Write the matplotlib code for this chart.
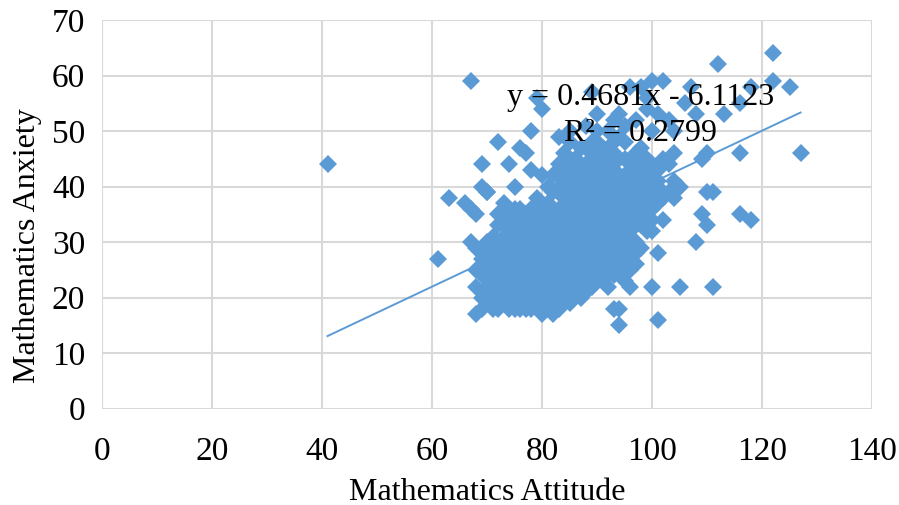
import matplotlib
matplotlib.use("Agg")
import matplotlib.pyplot as plt
import numpy as np

# ---- data ----
x_ticks = [0, 20, 40, 60, 80, 100, 120, 140]
y_ticks = [0, 10, 20, 30, 40, 50, 60, 70]

# core cluster: attitude value -> list of anxiety values
cluster = {
    68: [17, 22, 25, 29, 35],
    69: [18, 20, 24, 27, 40, 44],
    70: [19, 22, 26, 30, 39],
    71: [18, 21, 23, 27, 29],
    72: [18, 20, 24, 25, 30, 33, 48],
    73: [19, 22, 26, 28, 31, 37],
    74: [18, 21, 24, 27, 29, 33, 35, 44],
    75: [20, 23, 25, 30, 32, 36, 40],
    76: [18, 22, 26, 28, 31, 34, 47],
    77: [19, 21, 24, 27, 29, 33, 35, 46],
    78: [18, 20, 23, 25, 28, 31, 36, 43, 50],
    79: [19, 22, 26, 30, 32, 34, 38, 56],
    80: [17, 21, 24, 27, 29, 33, 36, 42, 54],
    81: [18, 20, 23, 25, 28, 31, 35, 37],
    82: [17, 19, 22, 26, 30, 32, 34, 39, 42],
    83: [18, 21, 24, 27, 29, 33, 36, 44, 49],
    84: [20, 23, 25, 28, 31, 35, 38, 41, 46],
    85: [19, 22, 26, 30, 32, 34, 37, 43, 48, 50],
    86: [21, 24, 27, 29, 33, 36, 40, 45],
    87: [20, 23, 25, 28, 31, 35, 38, 42, 47],
    88: [21, 24, 26, 30, 32, 37, 41, 44, 51],
    89: [22, 25, 27, 29, 33, 36, 39, 43, 46, 57],
    90: [23, 26, 28, 31, 34, 38, 40, 45, 48, 53],
    91: [24, 27, 30, 32, 35, 37, 42, 47],
    92: [22, 25, 29, 33, 36, 39, 41, 44, 50],
    93: [18, 24, 27, 31, 34, 38, 43, 46, 52],
    94: [15, 18, 25, 28, 30, 35, 37, 40, 45, 53],
    95: [23, 26, 32, 36, 39, 42, 48, 51],
    96: [22, 25, 29, 32, 34, 38, 41, 44, 58],
    97: [26, 30, 33, 36, 40, 43, 52],
    98: [29, 35, 37, 39, 42, 47, 58],
    99: [32, 36, 38, 41, 45, 54],
    100: [22, 32, 34, 40, 42, 44, 50, 59],
    101: [16, 28, 37, 41, 43, 53],
    102: [34, 38, 39, 45, 59],
    103: [39, 44, 52],
    104: [38, 41, 46, 50],
    105: [22, 40],
}
# second set of cluster responses filling the dense core
cluster_b = {
    70: [24, 28],
    71: [25, 31],
    72: [22, 27, 35],
    73: [20, 24, 33],
    74: [22, 26, 31],
    75: [18, 22, 27, 34],
    76: [20, 24, 30, 36],
    77: [18, 23, 26, 31],
    78: [22, 27, 33],
    79: [20, 24, 28, 36],
    80: [19, 23, 26, 31, 35],
    81: [22, 27, 30, 33, 40],
    82: [21, 24, 28, 36],
    83: [20, 23, 26, 31, 35, 40],
    84: [22, 27, 30, 33, 43],
    85: [24, 28, 36, 40, 45],
    86: [23, 26, 31, 35, 38, 42],
    87: [22, 27, 30, 33, 40, 44],
    88: [23, 28, 34, 39, 47],
    89: [24, 31, 35, 41, 48],
    90: [25, 30, 33, 36, 42, 50],
    91: [26, 29, 34, 39, 44],
    92: [24, 27, 31, 35, 38, 46],
    93: [26, 29, 33, 36, 40, 48],
    94: [27, 32, 38, 42, 49],
    95: [25, 30, 34, 38, 45],
    96: [27, 31, 36, 40],
    97: [28, 35, 38, 46],
    98: [33, 40, 44],
    99: [34, 40, 43],
    100: [36, 38],
}
# isolated points
extra_x = [41, 61, 63, 66, 67, 67, 67, 70, 107, 108, 109, 109, 110, 110, 110, 111,
           111, 112, 113, 116, 116, 116, 118, 118, 122, 122, 125, 127, 106, 108, 99]
extra_y = [44, 27, 38, 37, 36, 59, 30, 39, 58, 30, 35, 45, 33, 39, 46, 39,
           22, 62, 53, 55, 46, 35, 34, 58, 64, 59, 58, 46, 55, 53, 56]

attitude = ([k for k, vs in cluster.items() for _ in vs]
            + [k for k, vs in cluster_b.items() for _ in vs] + extra_x)
anxiety = ([v for vs in cluster.values() for v in vs]
           + [v for vs in cluster_b.values() for v in vs] + extra_y)

slope = 0.4681
intercept = -6.1123
r2 = 0.2799

# ---- figure ----
blue = "#5B9BD5"
grid = "#D9D9D9"
font = "Liberation Serif"

fig = plt.figure(figsize=(8.99, 5.05), dpi=100)
ax = fig.add_axes([102 / 899, 1 - 408.7 / 505, 770 / 899, 388.7 / 505])

ax.plot(attitude, anxiety, linestyle="none", marker="D", markersize=9,
        color=blue, markeredgewidth=0, zorder=3)

xs = np.array([min(attitude), max(attitude)])
ax.plot(xs, slope * xs + intercept, color=blue, linewidth=1.4, zorder=4)

ax.set_xlim(0, 140)
ax.set_ylim(0, 70)
ax.set_xticks(x_ticks)
ax.set_yticks(y_ticks)
ax.grid(True, color=grid, linewidth=1.5, zorder=0)
ax.set_axisbelow(True)
for s in ax.spines.values():
    s.set_visible(False)
ax.tick_params(length=0, labelsize=24, pad=12)
ax.tick_params(axis="x", pad=20)
for lab in ax.get_xticklabels() + ax.get_yticklabels():
    lab.set_fontfamily(font)

ax.text(98, 56.0, "y = 0.4681x - 6.1123", ha="center", va="center",
        fontsize=23, family=font, zorder=5)
ax.text(98, 49.6, "R² = 0.2799", ha="center", va="center",
        fontsize=23, family=font, zorder=5)

fig.text(487 / 899, 1 - 492 / 505, "Mathematics Attitude", ha="center",
         va="center", fontsize=23, family=font)
fig.text(28 / 899, 1 - 246 / 505, "Mathematics Anxiety", ha="center",
         va="center", rotation=90, fontsize=23, family=font)

fig.savefig("out.png", dpi=100)
